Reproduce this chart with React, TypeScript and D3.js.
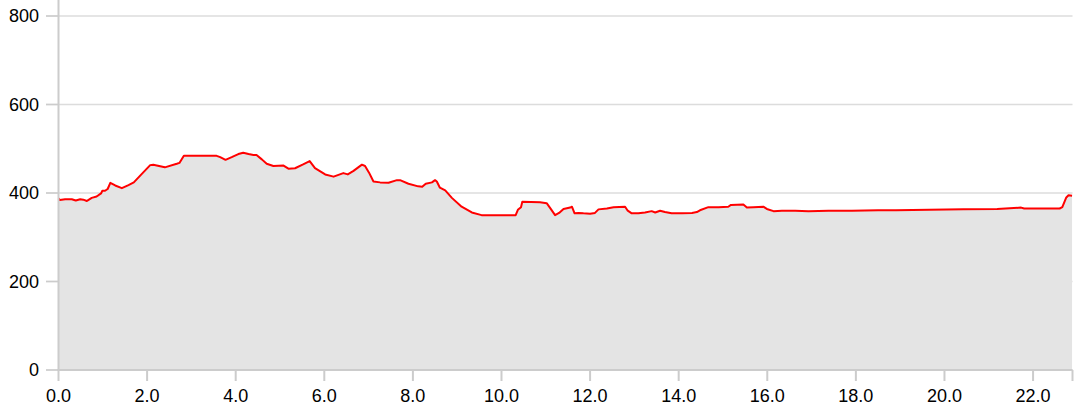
import React from "react";
import * as d3 from "d3";

const distanceKm: number[] = [
  0.0, 0.03, 0.15, 0.3, 0.39, 0.49, 0.56, 0.64, 0.67, 0.75, 0.86, 0.96, 0.99, 1.05, 1.11, 1.17, 1.28, 1.43, 1.58, 1.7,
  1.86, 2.07, 2.14, 2.4, 2.67, 2.73, 2.83, 3.08, 3.38, 3.57, 3.65, 3.77, 3.91, 4.06, 4.17, 4.29, 4.4, 4.47, 4.59, 4.7,
  4.85, 5.08, 5.19, 5.34, 5.51, 5.67, 5.79, 6.02, 6.21, 6.43, 6.53, 6.66, 6.85, 6.92, 7.01, 7.11, 7.26, 7.45, 7.64, 7.71,
  7.9, 8.12, 8.21, 8.29, 8.43, 8.5, 8.54, 8.61, 8.73, 8.88, 9.1, 9.33, 9.55, 9.86, 10.16, 10.32, 10.37, 10.44, 10.47, 10.87,
  11.02, 11.12, 11.21, 11.3, 11.4, 11.55, 11.59, 11.65, 11.74, 11.85, 12.0, 12.11, 12.19, 12.38, 12.53, 12.79, 12.85, 12.94, 13.09, 13.24,
  13.39, 13.47, 13.58, 13.69, 13.84, 14.07, 14.3, 14.41, 14.48, 14.67, 14.9, 15.12, 15.18, 15.46, 15.54, 15.69, 15.91, 15.99, 16.14, 16.33,
  16.63, 16.93, 17.38, 17.91, 18.5, 18.9, 19.66, 20.43, 21.19, 21.73, 21.8, 22.6, 22.66, 22.75, 22.8, 22.88,
];

const elevationM: number[] = [
  388, 384, 386, 386, 383, 386, 385, 382, 384, 389, 392, 399, 405, 405, 409, 423, 417, 411, 418, 424,
  441, 463, 464, 458, 466, 468, 484, 484, 484, 484, 481, 475, 481, 488, 491, 488, 486, 486, 476, 466,
  461, 462, 455, 456, 464, 472, 456, 442, 437, 445, 442, 450, 464, 461, 446, 426, 424, 423, 429, 429,
  421, 415, 414, 421, 424, 429, 426, 412, 406, 389, 369, 356, 350, 350, 350, 350, 362, 368, 380, 379,
  377, 363, 350, 355, 364, 367, 369, 354, 355, 354, 353, 355, 363, 365, 368, 369, 360, 354, 354, 356,
  359, 356, 360, 357, 354, 354, 355, 357, 361, 368, 368, 369, 373, 374, 367, 368, 369, 364, 359, 360,
  360, 359, 360, 360, 361, 361, 362, 363, 364, 367, 365, 365, 368, 390, 395, 394,
];

const xTicks: number[] = [0, 2, 4, 6, 8, 10, 12, 14, 16, 18, 20, 22];
const yTicks: number[] = [0, 200, 400, 600, 800];
const xMax = 22.89;

export default function App() {
  const W = 1077;
  const H = 407;
  const left = 58.5;
  const right = 1072.5;
  const bottom = 370;
  const top = 16;

  const x = d3.scaleLinear().domain([0, xMax]).range([left, right]);
  const y = d3.scaleLinear().domain([0, 800]).range([bottom, top]);

  const pts = distanceKm.map((d, i) => [d, elevationM[i]] as [number, number]);
  const area = d3
    .area<[number, number]>()
    .x((d) => x(d[0]))
    .y0(y(0))
    .y1((d) => y(d[1]));
  const line = d3
    .line<[number, number]>()
    .x((d) => x(d[0]))
    .y((d) => y(d[1]));

  const fmt = d3.format(".1f");
  const font = "'Liberation Sans', Arial, sans-serif";

  return (
    <svg
      width={W}
      height={H}
      style={{ position: "absolute", left: 0, top: 0, display: "block" }}
      fontFamily={font}
    >
      <rect x={0} y={0} width={W} height={H} fill="#ffffff" />
      {yTicks.map((t) => (
        <line key={"g" + t} x1={46} x2={right} y1={y(t)} y2={y(t)} stroke="#dcdcdc" strokeWidth={1.3} />
      ))}
      <path d={area(pts) || ""} fill="#e4e4e4" />
      <path d={line(pts) || ""} fill="none" stroke="#ff0000" strokeWidth={2} strokeLinejoin="round" />
      {/* y axis */}
      <line x1={left} x2={left} y1={0} y2={bottom + 1} stroke="#cccccc" strokeWidth={2} />
      {yTicks.map((t) => (
        <g key={"y" + t}>
          <line x1={46} x2={left} y1={y(t)} y2={y(t)} stroke="#cccccc" strokeWidth={1.5} />
          <text x={39} y={y(t)} dy="0.35em" textAnchor="end" fontSize={18} fill="#000">
            {t}
          </text>
        </g>
      ))}
      {/* x axis */}
      <line x1={left - 1} x2={right} y1={bottom} y2={bottom} stroke="#cccccc" strokeWidth={2} />
      {xTicks.map((t) => (
        <g key={"x" + t}>
          <line x1={x(t)} x2={x(t)} y1={bottom} y2={bottom + 11} stroke="#cccccc" strokeWidth={2} />
          <text x={x(t)} y={402} textAnchor="middle" fontSize={18} fill="#000">
            {fmt(t)}
          </text>
        </g>
      ))}
      <line x1={right} x2={right} y1={bottom} y2={bottom + 11} stroke="#cccccc" strokeWidth={2} />
    </svg>
  );
}
